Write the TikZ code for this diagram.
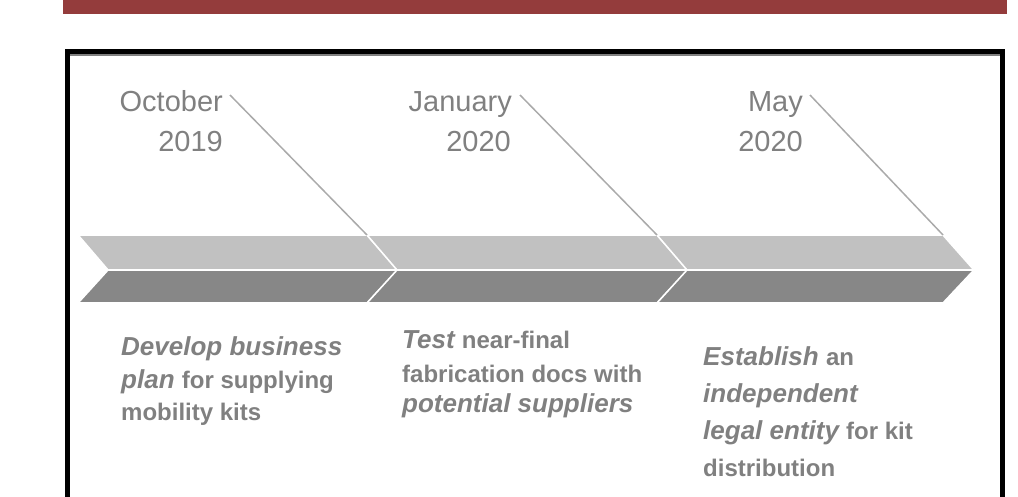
\documentclass[tikz,border=0pt]{standalone}
\usepackage{fontspec}
\setmainfont{Liberation Sans}
\definecolor{barred}{RGB}{148,60,60}
\definecolor{txtgray}{RGB}{128,128,128}
\definecolor{toplight}{RGB}{193,193,193}
\definecolor{botdark}{RGB}{135,135,135}
\definecolor{diagline}{RGB}{170,170,170}
\newcommand{\bitxt}[1]{{\fontsize{26}{30}\selectfont\bfseries\itshape #1}}
\newcommand{\bstxt}[1]{{\fontsize{24}{28}\selectfont\bfseries #1}}
\begin{document}
\begin{tikzpicture}[x=1pt,y=-1pt,
  datetxt/.style={inner sep=0pt,text=txtgray,font=\fontsize{29}{34}\selectfont,anchor=base east},
  desc/.style={inner sep=0pt,text=txtgray,anchor=base west},
  toppart/.style={fill=toplight,draw=white,line width=1.6pt,line join=miter},
  botpart/.style={fill=botdark,draw=white,line width=1.6pt,line join=miter},
  diag/.style={draw=diagline,line width=1.5pt}]
\useasboundingbox (0,0) rectangle (1018,497);
% top red bar
\fill[barred] (63,0) rectangle (1007,14);
% frame
\draw[black,line width=5pt] (67.5,600) -- (67.5,51.5) -- (1002.5,51.5) -- (1002.5,600);
\draw[gray,line width=1.2pt] (70,55) -- (1000,55);
% chevrons
\foreach \L/\R in {78/367,367/657,657/943}{
  \filldraw[toppart] (\L,235) -- (\R,235) -- (\R+31,270) -- (\L+30,270) -- cycle;
  \filldraw[botpart] (\L+30,270) -- (\R+31,270) -- (\R,303) -- (\L,303) -- cycle;
}
\coordinate (c1) at (367,235);
\coordinate (c2) at (657,235);
\coordinate (c3) at (943,235);
% dates
\node[datetxt] (oct) at (223,112) {October};
\node[datetxt] (y19) at (223,152) {2019};
\node[datetxt] (jan) at (512,112) {January};
\node[datetxt] (y20a) at (511,152) {2020};
\node[datetxt] (may) at (803,112) {May};
\node[datetxt] (y20b) at (803,152) {2020};
\coordinate (s1) at (230,95);
\coordinate (s2) at (520,95);
\coordinate (s3) at (810,95);
\draw[diag] (s1) -- (c1);
\draw[diag] (s2) -- (c2);
\draw[diag] (s3) -- (c3);
% descriptions
\node[desc] (d1a) at (121,355) {\bitxt{Develop business}};
\node[desc] (d1b) at (121,388) {\bitxt{plan\ }\bstxt{for supplying}};
\node[desc] (d1c) at (121,420) {\bstxt{mobility kits}};
\node[desc] (d2a) at (402,348) {\bitxt{Test\ }\bstxt{near-final}};
\node[desc] (d2b) at (402,382) {\bstxt{fabrication docs with}};
\node[desc] (d2c) at (402,412) {\bitxt{potential suppliers}};
\node[desc] (d3a) at (703,365) {\bitxt{Establish\ }\bstxt{an}};
\node[desc] (d3b) at (703,402) {\bitxt{independent}};
\node[desc] (d3c) at (703,439) {\bitxt{legal entity\ }\bstxt{for kit}};
\node[desc] (d3d) at (703,476) {\bstxt{distribution}};
\end{tikzpicture}
\end{document}
